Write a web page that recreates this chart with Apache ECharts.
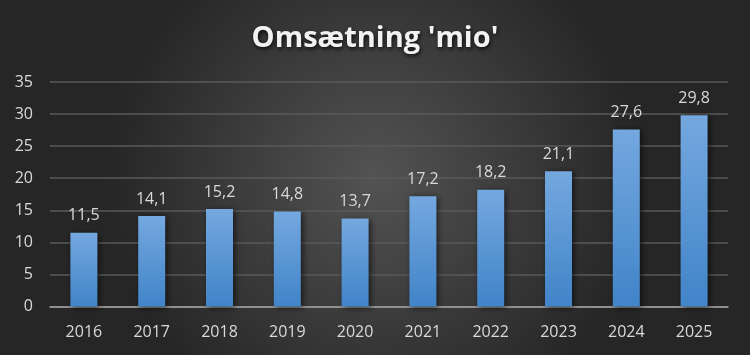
<!DOCTYPE html>
<html><head><meta charset="utf-8">
<script src="https://cdn.jsdelivr.net/npm/echarts@6/dist/echarts.min.js"></script>
<style>html,body{margin:0;padding:0;background:#333;}#c{width:750px;height:355px;}</style>
</head><body><div id="c"></div>
<script>
const titleText = "Omsætning 'mio'";
const categories = ['2016','2017','2018','2019','2020','2021','2022','2023','2024','2025'];
const values = [11.5,14.1,15.2,14.8,13.7,17.2,18.2,21.1,27.6,29.8];
const yTicks = {min:0, max:35, interval:5};

const chart = echarts.init(document.getElementById('c'));
chart.setOption({
  backgroundColor: {type:'radial', x:0.5, y:0.5, r:0.75,
    colorStops:[{offset:0,color:'#535353'},{offset:1,color:'#262626'}]},
  title: {text: titleText, left:'center', top:19,
    textStyle:{color:'#f2f2f2', fontSize:29, fontWeight:'bold', fontFamily:'Open Sans',
      textShadowColor:'rgba(0,0,0,0.8)', textShadowBlur:4, textShadowOffsetX:1, textShadowOffsetY:2}},
  grid: {left:50, right:22, top:82, bottom:48.5, containLabel:false},
  xAxis: {type:'category', data:categories,
    axisLine:{lineStyle:{color:'#a6a6a6', width:1.5}},
    axisTick:{show:false},
    axisLabel:{color:'#d9d9d9', fontSize:16, fontFamily:'Open Sans', margin:18}},
  yAxis: {type:'value', min:yTicks.min, max:yTicks.max, interval:yTicks.interval,
    axisLine:{show:false}, axisTick:{show:false},
    splitLine:{lineStyle:{color:'#5a5a5a', width:1.5}},
    axisLabel:{color:'#d9d9d9', fontSize:16, fontFamily:'Open Sans', margin:17}},
  series: [{type:'bar', data:values, barWidth:27,
    itemStyle:{color:{type:'linear', x:0,y:0,x2:0,y2:1,
      colorStops:[{offset:0,color:'#74a8df'},{offset:1,color:'#4184c8'}]},
      shadowColor:'rgba(0,0,0,0.6)', shadowBlur:6, shadowOffsetX:2, shadowOffsetY:1},
    label:{show:true, position:'top', distance:9, color:'#d9d9d9', fontSize:16, fontFamily:'Open Sans',
      formatter: p => String(p.value).replace('.', ',')}}]
});
</script></body></html>
